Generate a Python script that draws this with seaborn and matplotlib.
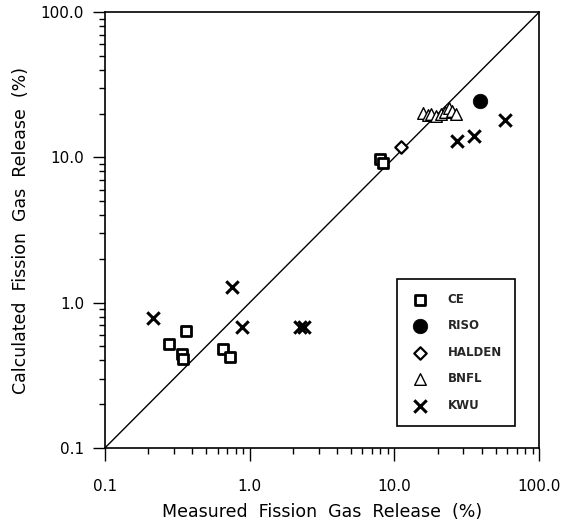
import numpy as np
import pandas as pd
import matplotlib
matplotlib.use("Agg")
import matplotlib.pyplot as plt
import seaborn as sns
from matplotlib.ticker import FixedLocator, FixedFormatter, LogLocator, NullFormatter

# ---- data ----
ce_measured = [0.277, 0.365, 0.339, 0.345, 0.657, 0.736, 8.0, 8.3]
ce_calculated = [0.52, 0.637, 0.44, 0.41, 0.479, 0.424, 9.7, 9.2]

riso_measured = [38.7]
riso_calculated = [24.5]

halden_measured = [11.1]
halden_calculated = [11.7]

bnfl_measured = [15.8, 17.0, 18.0, 19.5, 21.0, 22.5, 23.8, 25.0, 26.5]
bnfl_calculated = [20.2, 19.5, 19.8, 19.4, 19.9, 20.5, 21.8, 20.8, 19.8]

kwu_measured = [0.216, 0.76, 0.88, 2.21, 2.38, 27.2, 35.2, 58.5]
kwu_calculated = [0.785, 1.28, 0.68, 0.68, 0.68, 13.0, 14.0, 18.2]

tick_values = [0.1, 1.0, 10.0, 100.0]
tick_labels = ["0.1", "1.0", "10.0", "100.0"]

sns.set_theme(style="ticks")
plt.rcParams["font.family"] = ["DejaVu Sans"]

fig = plt.figure(figsize=(5.64, 5.27), dpi=100)
ax = fig.add_axes([0.186, 0.150, 0.770, 0.827])

groups = [
    ("CE", ce_measured, ce_calculated, dict(marker="s", s=55, facecolor="white", edgecolor="black", linewidth=2.0)),
    ("RISO", riso_measured, riso_calculated, dict(marker="o", s=110, color="black", edgecolor="black", linewidth=0.5)),
    ("HALDEN", halden_measured, halden_calculated, dict(marker="D", s=40, facecolor="white", edgecolor="black", linewidth=1.6)),
    ("BNFL", bnfl_measured, bnfl_calculated, dict(marker="^", s=70, facecolor="white", edgecolor="black", linewidth=1.0)),
    ("KWU", kwu_measured, kwu_calculated, dict(marker="x", s=80, color="black", linewidth=2.2)),
]

for name, xm, yc, style in groups:
    df = pd.DataFrame({"measured": xm, "calculated": yc})
    sns.scatterplot(data=df, x="measured", y="calculated", ax=ax, label=name, zorder=3, **style)

# identity line
ax.plot([0.1, 100.0], [0.1, 100.0], color="black", linewidth=1.0, zorder=2)

ax.set_xscale("log")
ax.set_yscale("log")
ax.set_xlim(0.1, 100.0)
ax.set_ylim(0.1, 100.0)

for axis in (ax.xaxis, ax.yaxis):
    axis.set_major_locator(FixedLocator(tick_values))
    axis.set_major_formatter(FixedFormatter(tick_labels))
    axis.set_minor_locator(LogLocator(base=10, subs=np.arange(2, 10)))
    axis.set_minor_formatter(NullFormatter())

ax.tick_params(which="major", direction="out", length=9, width=1.0, colors="black", labelsize=11)
ax.tick_params(which="minor", direction="out", length=4, width=1.0, colors="black")
ax.tick_params(axis="x", which="major", pad=13)
ax.tick_params(axis="y", which="major", pad=6)

for sp in ax.spines.values():
    sp.set_color("black")
    sp.set_linewidth(1.2)

ax.set_xlabel("Measured  Fission  Gas  Release  (%)", fontsize=12.5, color="black", labelpad=7)
ax.set_ylabel("Calculated  Fission  Gas  Release  (%)", fontsize=12.5, color="black", labelpad=8)

leg = ax.legend(loc="lower left", bbox_to_anchor=(0.672, 0.05, 0.272, 0.317), mode="expand",
                frameon=True, fancybox=False, edgecolor="black", framealpha=1,
                fontsize=8.5, borderpad=1.2, labelspacing=1.15, handletextpad=1.6,
                borderaxespad=0, handlelength=1.5)
leg.get_frame().set_linewidth(1.2)
for t in leg.get_texts():
    t.set_fontweight("bold")

fig.savefig("out.png", dpi=100)
